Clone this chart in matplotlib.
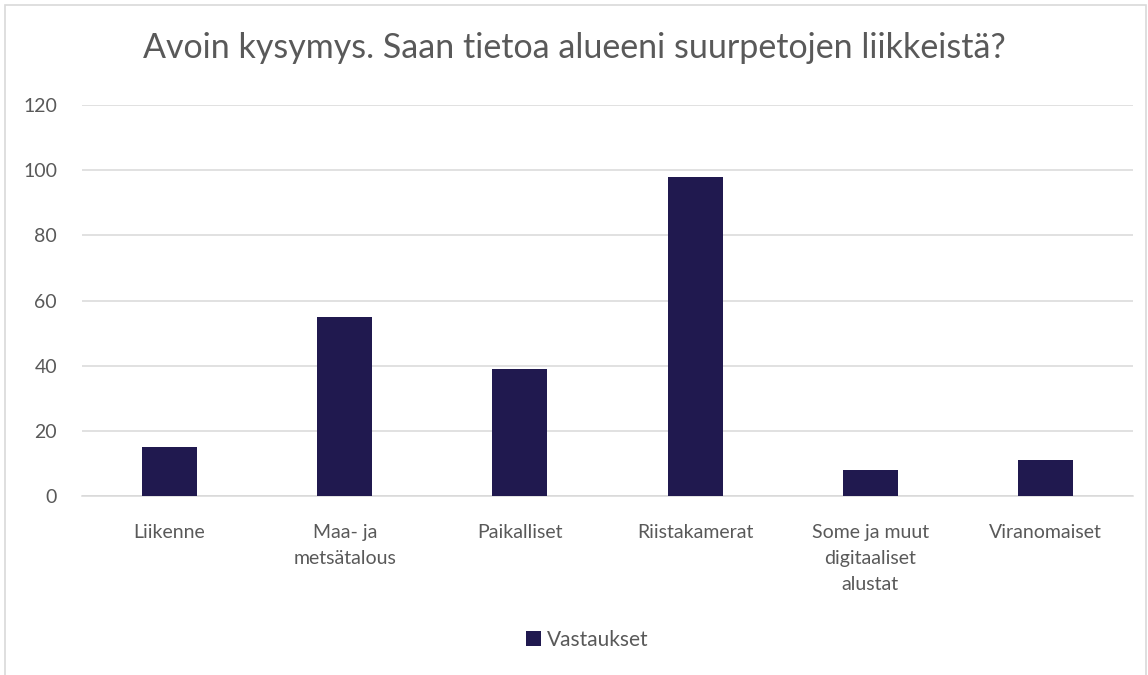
import matplotlib.pyplot as plt
from matplotlib.patches import Rectangle

# Data
categories = ['Liikenne', 'Maa- ja\nmetsätalous', 'Paikalliset', 'Riistakamerat',
              'Some ja muut\ndigitaaliset\nalustat', 'Viranomaiset']
values = [15, 55, 39, 98, 8, 11]
series_name = 'Vastaukset'
yticks = [0, 20, 40, 60, 80, 100, 120]

BAR = '#20194F'
TXT = '#595959'
GRID = '#D9D9D9'

plt.rcParams['font.family'] = ['Lato', 'DejaVu Sans']

fig = plt.figure(figsize=(11.48, 6.75), dpi=100)
ax = fig.add_axes([82 / 1148, 1 - 496 / 675, (1133 - 82) / 1148, (496 - 105) / 675])

x = list(range(len(categories)))
ax.bar(x, values, width=0.314, color=BAR, label=series_name, zorder=3)

ax.set_xlim(-0.5, len(categories) - 0.5)
ax.set_ylim(0, 120)
ax.set_yticks(yticks)
ax.set_xticks(x)
ax.set_xticklabels(categories, fontsize=14, color=TXT, linespacing=1.65)
ax.tick_params(axis='y', labelsize=14, labelcolor=TXT, length=0, pad=18)
ax.tick_params(axis='x', length=0, pad=20)
ax.grid(axis='y', color=GRID, linewidth=1.1, zorder=0)
for s in ['top', 'right', 'left']:
    ax.spines[s].set_visible(False)
ax.spines['bottom'].set_color(GRID)
ax.spines['bottom'].set_linewidth(1.1)
ax.spines['bottom'].set_zorder(1)

fig.text(0.5, 1 - 48 / 675, 'Avoin kysymys. Saan tietoa alueeni suurpetojen liikkeistä?',
         ha='center', va='center', fontsize=24.5, color=TXT)

fig.legend(loc='center', bbox_to_anchor=(587 / 1148, 1 - 640 / 675), frameon=False,
           fontsize=15, labelcolor=TXT, handlelength=0.75, handleheight=0.75,
           handletextpad=0.25)

# chart frame
fig.patches.append(Rectangle((5 / 1148, -0.01), (1146 - 5) / 1148, 1 - 5 / 675 + 0.01,
                             transform=fig.transFigure, fill=False,
                             edgecolor=GRID, linewidth=1.2))

fig.savefig('out.png', dpi=100)
